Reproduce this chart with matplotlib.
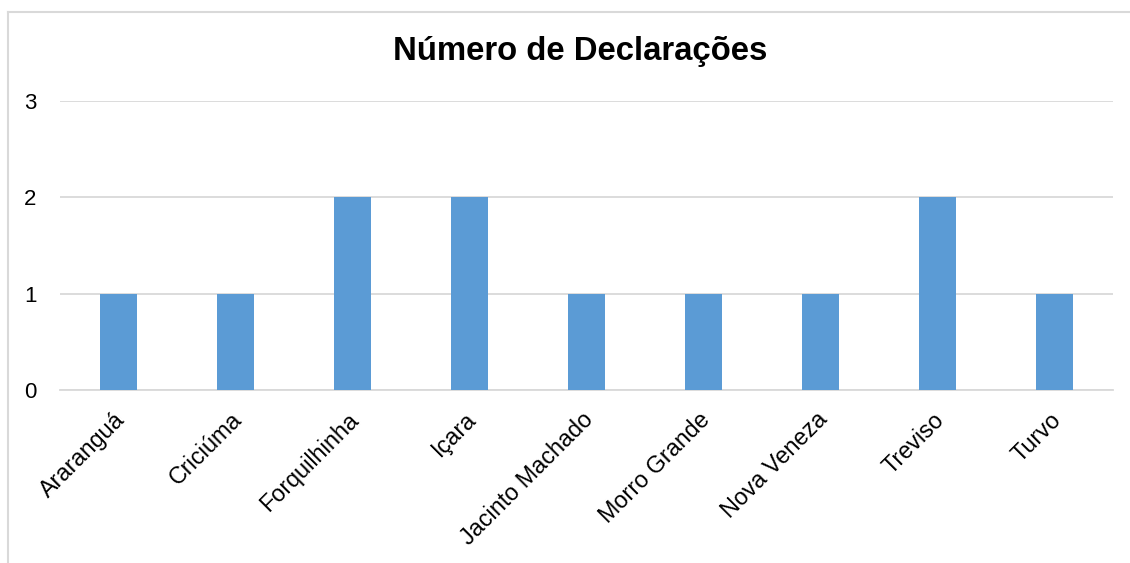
import matplotlib.pyplot as plt
from matplotlib.lines import Line2D
from matplotlib.transforms import ScaledTranslation
import numpy as np

plt.rcParams['font.family'] = ['Liberation Sans', 'DejaVu Sans']

# Dados
municipios = ['Araranguá', 'Criciúma', 'Forquilhinha', 'Içara', 'Jacinto Machado',
              'Morro Grande', 'Nova Veneza', 'Treviso', 'Turvo']
declaracoes = [1, 1, 2, 2, 1, 1, 1, 2, 1]

W, H = 1130, 563
fig = plt.figure(figsize=(W / 100, H / 100), dpi=100)
ax = fig.add_axes([60 / W, 1 - 390 / H, 1053 / W, 289 / H])

x = np.arange(len(municipios))
ax.bar(x, declaracoes, width=0.31, color='#5B9BD5', zorder=3)

ax.set_xlim(-0.5, len(municipios) - 0.5)
ax.set_ylim(0, 3)
ax.set_yticks([0, 1, 2, 3])
ax.yaxis.grid(True, color='#D9D9D9', linewidth=1.3, zorder=0)
for s in ['top', 'right', 'left']:
    ax.spines[s].set_visible(False)
ax.spines['bottom'].set_color('#D9D9D9')
ax.spines['bottom'].set_linewidth(1.3)
ax.tick_params(axis='both', length=0, colors='black')
ax.tick_params(axis='y', pad=17, labelsize=16)
ax.set_xticks(x)
ax.set_xticklabels(municipios, rotation=45, ha='right', rotation_mode='anchor')
ax.tick_params(axis='x', pad=13, labelsize=16.8)
shift = ScaledTranslation(-5 / 100, 0, fig.dpi_scale_trans)
for lbl in ax.get_xticklabels():
    lbl.set_transform(lbl.get_transform() + shift)

fig.text(580 / W, 1 - 60 / H, 'Número de Declarações', ha='center', va='baseline',
         fontsize=23.7, fontweight='bold')

# Moldura (só topo e esquerda visíveis)
fig.add_artist(Line2D([8 / W, 1], [1 - 12 / H, 1 - 12 / H], transform=fig.transFigure,
                      color='#D9D9D9', linewidth=1.5))
fig.add_artist(Line2D([8 / W, 8 / W], [0, 1 - 12 / H], transform=fig.transFigure,
                      color='#D9D9D9', linewidth=1.5))

fig.savefig('out.png', dpi=100)
